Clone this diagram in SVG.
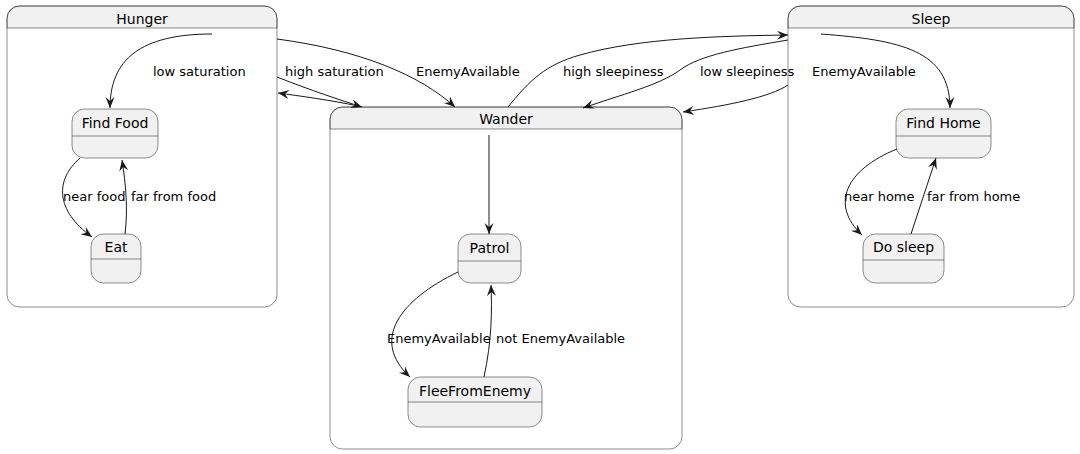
<svg xmlns="http://www.w3.org/2000/svg" width="1080" height="454" viewBox="0 0 1080 454">
<defs>
<style>
.box{fill:#F1F1F1;stroke:#181818;stroke-width:0.5}
.outline{fill:none;stroke:#181818;stroke-width:0.5}
.body{fill:#FFFFFF;stroke:none}
.sep{stroke:#181818;stroke-width:0.5}
.t{font-family:"DejaVu Sans",sans-serif;font-size:14px;fill:#000;text-anchor:middle}
.lbl{font-family:"DejaVu Sans",sans-serif;font-size:13px;fill:#000}
.e{fill:none;stroke:#181818;stroke-width:1;marker-end:url(#ah)}
</style>
<marker id="ah" markerUnits="userSpaceOnUse" markerWidth="14" markerHeight="12" refX="11" refY="4.5" orient="auto">
<path d="M0,0 L11,4.5 L0,9 L4,4.5 Z" fill="#181818"/>
</marker>
</defs>
<rect width="1080" height="454" fill="#FFFFFF"/>

<g id="Hunger">
<rect class="body" x="7" y="6" width="270" height="301" rx="12.5"/>
<path class="box" d="M7,28 L7,18.5 A12.5,12.5 0 0 1 19.5,6 L264.5,6 A12.5,12.5 0 0 1 277,18.5 L277,28 Z"/>
<rect class="outline" x="7" y="6" width="270" height="301" rx="12.5"/>
<text class="t" x="142" y="24">Hunger</text>
</g>
<g id="Wander">
<rect class="body" x="330" y="107" width="352" height="342" rx="12.5"/>
<path class="box" d="M330,129 L330,119.5 A12.5,12.5 0 0 1 342.5,107 L669.5,107 A12.5,12.5 0 0 1 682,119.5 L682,129 Z"/>
<rect class="outline" x="330" y="107" width="352" height="342" rx="12.5"/>
<text class="t" x="506" y="124">Wander</text>
</g>
<g id="Sleep">
<rect class="body" x="788" y="6" width="286" height="301" rx="12.5"/>
<path class="box" d="M788,28 L788,18.5 A12.5,12.5 0 0 1 800.5,6 L1061.5,6 A12.5,12.5 0 0 1 1074,18.5 L1074,28 Z"/>
<rect class="outline" x="788" y="6" width="286" height="301" rx="12.5"/>
<text class="t" x="931" y="24">Sleep</text>
</g>

<g id="FindFood">
<rect class="box" x="72" y="109" width="86" height="49" rx="12.5"/>
<line class="sep" x1="72" y1="136" x2="158" y2="136"/>
<text class="t" x="115" y="128">Find Food</text>
</g>
<g id="Eat">
<rect class="box" x="91" y="234" width="50" height="49" rx="12.5"/>
<line class="sep" x1="91" y1="259" x2="141" y2="259"/>
<text class="t" x="116" y="252">Eat</text>
</g>
<g id="FindHome">
<rect class="box" x="896" y="109" width="95" height="49" rx="12.5"/>
<line class="sep" x1="896" y1="136" x2="991" y2="136"/>
<text class="t" x="943.5" y="128">Find Home</text>
</g>
<g id="DoSleep">
<rect class="box" x="863" y="234" width="81" height="49" rx="12.5"/>
<line class="sep" x1="863" y1="260" x2="944" y2="260"/>
<text class="t" x="903.5" y="252">Do sleep</text>
</g>
<g id="Patrol">
<rect class="box" x="458" y="234" width="63" height="49" rx="12.5"/>
<line class="sep" x1="458" y1="261" x2="521" y2="261"/>
<text class="t" x="489.5" y="253">Patrol</text>
</g>
<g id="FleeFromEnemy">
<rect class="box" x="408" y="377" width="134" height="50" rx="12.5"/>
<line class="sep" x1="408" y1="402" x2="542" y2="402"/>
<text class="t" x="475" y="396">FleeFromEnemy</text>
</g>

<g id="connectors">
<path class="e" d="M212,34 C140,34 110,60 110,108"/>
<path class="e" d="M277,77 C310,90 340,100 362,107"/>
<path class="e" d="M358,106 C330,100 300,96 278,93"/>
<path class="e" d="M277,39 C360,50 420,75 455,107"/>
<path class="e" d="M508,107 C530,80 545,65 580,55 C640,38 720,36 788,35"/>
<path class="e" d="M788,40 C740,48 700,55 680,70 C660,85 620,95 583,108"/>
<path class="e" d="M788,85 C770,97 730,105 683,112"/>
<path class="e" d="M821,34 C900,40 950,50 950,108"/>
<path class="e" d="M80,158 C55,180 55,210 92,237"/>
<path class="e" d="M125,234 C128,210 126,185 122,160"/>
<path class="e" d="M897,149 C845,170 830,205 862,235"/>
<path class="e" d="M911,234 L936,158"/>
<path class="e" d="M489,135 L489,234"/>
<path class="e" d="M458,272 C400,300 370,340 410,377"/>
<path class="e" d="M484,377 C492,340 492,310 491,285"/>
<text class="lbl" x="153" y="76">low saturation</text>
<text class="lbl" x="285" y="76">high saturation</text>
<text class="lbl" x="416" y="76">EnemyAvailable</text>
<text class="lbl" x="563" y="76">high sleepiness</text>
<text class="lbl" x="700" y="76">low sleepiness</text>
<text class="lbl" x="812" y="76">EnemyAvailable</text>
<text class="lbl" x="63" y="201">near food</text>
<text class="lbl" x="131" y="201">far from food</text>
<text class="lbl" x="844" y="201">near home</text>
<text class="lbl" x="927" y="201">far from home</text>
<text class="lbl" x="387" y="343">EnemyAvailable</text>
<text class="lbl" x="496" y="343">not EnemyAvailable</text>
</g>
</svg>
